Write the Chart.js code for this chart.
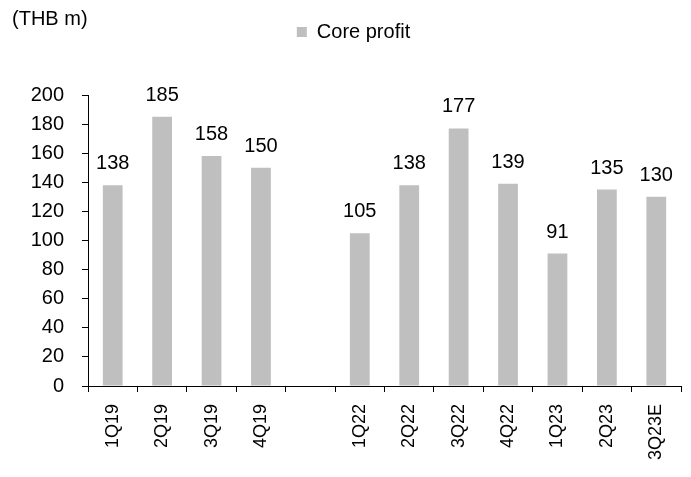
<!DOCTYPE html>
<html>
<head>
<meta charset="utf-8">
<script src="https://cdn.jsdelivr.net/npm/chart.js@4/dist/chart.umd.min.js"></script>
<style>
  html, body { margin: 0; padding: 0; background: #ffffff; }
  #wrap { position: relative; width: 691px; height: 477px; }
</style>
</head>
<body>
<div id="wrap"><canvas id="c" width="691" height="477"></canvas></div>
<script>
const categories = ['1Q19', '2Q19', '3Q19', '4Q19', '', '1Q22', '2Q22', '3Q22', '4Q22', '1Q23', '2Q23', '3Q23E'];
const coreProfit = [138, 185, 158, 150, null, 105, 138, 177, 139, 91, 135, 130];
const seriesName = 'Core profit';
const unitLabel = '(THB m)';
const yTicks = [0, 20, 40, 60, 80, 100, 120, 140, 160, 180, 200];

const FONT = '"Liberation Sans", Arial, sans-serif';

const legendHeightPlugin = {
  id: 'legendHeight',
  beforeInit(chart) {
    const orig = chart.legend.fit;
    chart.legend.fit = function () {
      orig.call(this);
      this.height = 95;
    };
  }
};

const extrasPlugin = {
  id: 'extras',
  afterDatasetsDraw(chart) {
    const ctx = chart.ctx;
    ctx.save();
    ctx.fillStyle = '#000000';
    ctx.font = '20px ' + FONT;
    ctx.textAlign = 'center';
    ctx.textBaseline = 'alphabetic';
    const meta = chart.getDatasetMeta(0);
    meta.data.forEach((bar, i) => {
      const v = coreProfit[i];
      if (v === null || v === undefined) return;
      ctx.fillText(String(v), bar.x, bar.y - 16);
    });
    ctx.font = '20px ' + FONT;
    ctx.textAlign = 'left';
    ctx.fillText(unitLabel, 12, 25);
    ctx.restore();
  }
};

new Chart(document.getElementById('c'), {
  type: 'bar',
  data: {
    labels: categories,
    datasets: [{
      label: seriesName,
      data: coreProfit,
      backgroundColor: '#bfbfbf',
      borderWidth: 0,
      barPercentage: 0.4,
      categoryPercentage: 1.0
    }]
  },
  options: {
    responsive: false,
    animation: false,
    layout: { padding: { top: 0, left: 26, right: 10, bottom: 0 } },
    plugins: {
      legend: {
        display: true,
        position: 'top',
        labels: {
          boxWidth: 10,
          boxHeight: 10,
          padding: 22,
          color: '#000000',
          font: { family: FONT, size: 20 }
        }
      },
      tooltip: { enabled: false }
    },
    scales: {
      x: {
        offset: true,
        grid: {
          offset: true,
          drawOnChartArea: false,
          drawTicks: true,
          tickLength: 6,
          tickColor: '#000000',
          lineWidth: 1
        },
        border: { display: true, color: '#000000', width: 1 },
        ticks: {
          autoSkip: false,
          maxRotation: 90,
          minRotation: 90,
          padding: 12,
          color: '#000000',
          font: { family: FONT, size: 18 }
        },
        afterFit(scale) { scale.height = 91; }
      },
      y: {
        min: 0,
        max: 200,
        afterBuildTicks(scale) { scale.ticks = yTicks.map(v => ({ value: v })); },
        grid: {
          drawOnChartArea: false,
          drawTicks: true,
          tickLength: 6,
          tickColor: '#000000'
        },
        border: { display: true, color: '#000000', width: 1 },
        ticks: {
          padding: 18,
          color: '#000000',
          font: { family: FONT, size: 20 }
        },
        afterFit(scale) { scale.width = 62; }
      }
    }
  },
  plugins: [legendHeightPlugin, extrasPlugin]
});
</script>
</body>
</html>
